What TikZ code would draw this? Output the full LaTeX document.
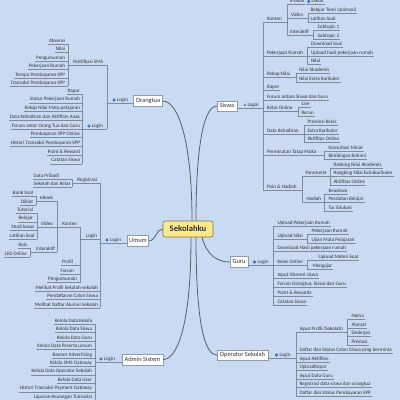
\documentclass[tikz,border=0pt]{standalone}
\usepackage{fontspec}
\setmainfont{Carlito}
\definecolor{bgc}{HTML}{C8DBF2}
\definecolor{txt}{HTML}{333333}
\definecolor{lnc}{HTML}{7D8C9C}
\definecolor{bdc}{HTML}{8E9CAB}
\definecolor{mainc}{HTML}{5A5F66}
\definecolor{icoc}{HTML}{3D85D8}
\definecolor{icod}{HTML}{2A5FA8}
\definecolor{rootf}{HTML}{FCE98C}
\definecolor{rootd}{HTML}{7F7340}
\tikzset{
 lf/.style={font=\fontsize{5.1}{5.5}\selectfont, text=txt, inner xsep=0.8pt, inner ysep=0.8pt, text height=3.4pt, text depth=0.9pt},
 ln/.style={draw=lnc, line width=0.45pt},
 topic/.style={draw=bdc, fill=white, line width=0.4pt, font=\fontsize{6.4}{7}\selectfont, text=txt, inner xsep=1pt, inner ysep=0pt, text height=4.4pt, text depth=1.3pt, minimum height=11pt},
 rootbox/.style={draw=rootd, fill=rootf, line width=0.6pt, rounded corners=2pt, font=\fontsize{8.6}{9}\selectfont\bfseries, text=txt, minimum width=50pt, minimum height=16pt, inner sep=0pt},
 mainln/.style={draw=mainc, line width=0.8pt},
 ico/.style={circle, fill=icoc, draw=icod, line width=0.3pt, minimum size=2.8pt, inner sep=0pt},
}
% right leaf: name, parent spine, x, y, text
\newcommand\rleaf[5]{\node[lf,anchor=west] (#1) at (#3,#4) {#5}; \draw[ln] (#1.south west -| #2) -- (#1.south east);}
% left leaf: name, parent spine, x, y, text
\newcommand\lleaf[5]{\node[lf,anchor=east] (#1) at (#3,#4) {#5}; \draw[ln] (#1.south west) -- (#1.south east -| #2);}
\newcommand\rext[2]{\draw[ln] (#1.south east) -- (#1.south east -| #2);}
\newcommand\lext[2]{\draw[ln] (#1.south west) -- (#1.south west -| #2);}
\newcommand\spine[3]{\draw[ln] (#2.south -| #1) -- (#3.south -| #1);}
\begin{document}
\begin{tikzpicture}[x=1pt,y=-1pt]
\useasboundingbox (0,0) rectangle (400,400);
\fill[bgc] (0,0) rectangle (400,400);

% ---------- centre ----------
\node[rootbox] (root) at (188,229) {Sekolahku};

% ---------- Orangtua ----------
\node[topic,minimum width=29pt] (orangtua) at (148,101) {Orangtua};
\coordinate (sO1) at (107,0); \coordinate (sO2) at (68,0); \coordinate (sO3) at (82,0);
\node[lf,anchor=east] (lgO1) at (129,100) {Login};
\node[ico] (icO1) at ([xshift=-2pt]lgO1.west) {};
\draw[ln] (lgO1.south -| sO1) -- (lgO1.south -| orangtua.west);
\lleaf{nsms}{sO1}{104}{62}{Notifikasi SMS}
\lext{nsms}{sO2}
\lleaf{o1}{sO2}{66}{41}{Absensi}
\lleaf{o2}{sO2}{66}{49.45}{Nilai}
\lleaf{o3}{sO2}{66}{57.9}{Pengumuman}
\lleaf{o4}{sO2}{66}{66.35}{Pekerjaan Rumah}
\lleaf{o5}{sO2}{66}{74.8}{Tempo Pembayaran SPP}
\lleaf{o6}{sO2}{66}{83.25}{Transaksi Pembayaran SPP}
\spine{sO2}{o1}{o6}
\node[lf,anchor=east] (lgO2) at (104,126) {Login};
\node[ico] (icO2) at ([xshift=-2pt]lgO2.west) {};
\draw[ln] (lgO2.south -| sO3) -- (lgO2.south -| sO1);
\spine{sO1}{nsms}{lgO2}
\lleaf{o7}{sO3}{81}{91}{Rapor}
\lleaf{o8}{sO3}{81}{99.7}{Status Pekerjaan Rumah}
\lleaf{o9}{sO3}{81}{108.4}{Rekap Nilai Mata pelajaran}
\lleaf{o10}{sO3}{81}{117.1}{Data Kehadiran dan Aktifitas Anak}
\lleaf{o11}{sO3}{81}{125.8}{Forum antar Orang Tua dan Guru}
\lleaf{o12}{sO3}{81}{134.5}{Pembayaran SPP Online}
\lleaf{o13}{sO3}{81}{143.2}{Histori Transaksi Pembayaran SPP}
\lleaf{o14}{sO3}{81}{151.9}{Point \& Reward}
\lleaf{o15}{sO3}{81}{160.6}{Catatan Siswa}
\spine{sO3}{o7}{o15}

% ---------- Umum ----------
\node[topic,minimum width=21pt] (umum) at (138,241) {Umum};
\coordinate (sU1) at (100,0); \coordinate (sU2) at (72,0); \coordinate (sU3) at (80,0);
\coordinate (sU4) at (57,0); \coordinate (sU5) at (36,0); \coordinate (sU6) at (37,0); \coordinate (sU7) at (30,0);
\node[lf,anchor=east] (lgU1) at (122,240) {Login};
\node[ico] (icU1) at ([xshift=-2pt]lgU1.west) {};
\draw[ln] (lgU1.south -| sU1) -- (lgU1.south -| umum.west);
\lleaf{reg}{sU1}{98}{180}{Registrasi}
\lext{reg}{sU2}
\lleaf{u1}{sU2}{60}{176}{Data Pribadi}
\lleaf{u2}{sU2}{71.5}{184}{Sekolah dan Kelas}
\spine{sU2}{u1}{u2}
\lleaf{lgU2}{sU1}{98}{236}{Login}
\lext{lgU2}{sU3}
\lleaf{kon}{sU3}{78}{224}{Konten}
\lext{kon}{sU4}
\lleaf{ebk}{sU4}{54}{198}{eBook}
\lext{ebk}{sU5}
\lleaf{u3}{sU5}{34}{193}{Bank Soal}
\lleaf{u4}{sU5}{34}{202}{Diklat}
\spine{sU5}{u3}{u4}
\lleaf{vid}{sU4}{54}{224}{Video}
\lext{vid}{sU6}
\lleaf{u5}{sU6}{34}{210}{Tutorial}
\lleaf{u6}{sU6}{34}{218.7}{Belajar}
\lleaf{u7}{sU6}{35.5}{227.4}{Studi kasus}
\lleaf{u8}{sU6}{35.5}{236}{Latihan Soal}
\spine{sU6}{u5}{u8}
\lleaf{itk}{sU4}{56}{249}{Interaktif}
\lext{itk}{sU7}
\lleaf{u9}{sU7}{28}{245}{Kuis}
\lleaf{u10}{sU7}{28}{254}{LKS Online}
\spine{sU7}{u9}{u10}
\spine{sU4}{ebk}{itk}
\lleaf{u11}{sU3}{74}{262.5}{Profil}
\lleaf{u12}{sU3}{75}{271}{Forum}
\lleaf{u13}{sU3}{78}{279.5}{Pengumuman}
\spine{sU3}{kon}{u13}
\lleaf{u14}{sU1}{99}{288}{Melihat Profil Sekolah-sekolah}
\lleaf{u15}{sU1}{99}{296.5}{Pendaftaran Calon Siswa}
\lleaf{u16}{sU1}{99}{305}{Melihat Daftar Alumni Sekolah}
\spine{sU1}{reg}{u16}

% ---------- Admin Sistem ----------
\node[topic,minimum width=41pt] (admin) at (142.5,359.5) {Admin Sistem};
\coordinate (sA1) at (95,0);
\node[lf,anchor=east] (lgA) at (116,359) {Login};
\node[ico] (icA) at ([xshift=-2pt]lgA.west) {};
\draw[ln] (lgA.south -| sA1) -- (lgA.south -| admin.west);
\lleaf{a1}{sA1}{93}{321}{Kelola Data Kelola}
\lleaf{a2}{sA1}{93}{329.45}{Kelola Data Siswa}
\lleaf{a3}{sA1}{93}{337.9}{Kelola Data Guru}
\lleaf{a4}{sA1}{93}{346.35}{Kelola Data Peserta umum}
\lleaf{a5}{sA1}{93}{354.8}{Banner Advertising}
\lleaf{a6}{sA1}{93}{363.25}{Kelola SMS Gateway}
\lleaf{a7}{sA1}{93}{371.7}{Kelola Data Operator Sekolah}
\lleaf{a8}{sA1}{93}{380.15}{Kelola Data User}
\lleaf{a9}{sA1}{93}{388.6}{Histori Transaksi Payment Gateway}
\lleaf{a10}{sA1}{93}{397.05}{Laporan Keuangan Transaksi}
\spine{sA1}{a1}{a10}

% ---------- Siswa ----------
\node[topic,minimum width=20pt,minimum height=10pt] (siswa) at (227,106) {Siswa};
\coordinate (sS1) at (263,0); \coordinate (sS2) at (287,0); \coordinate (sS3) at (306,0);
\coordinate (sS4) at (308,0); \coordinate (sS5) at (313,0); \coordinate (sS6) at (307,0);
\coordinate (sS7) at (296,0); \coordinate (sS8) at (298,0); \coordinate (sS9) at (304,0);
\coordinate (sS10) at (324,0); \coordinate (sS11) at (302,0); \coordinate (sS12) at (330,0);
\coordinate (sS13) at (324,0);
\node[lf,anchor=west] (lgS) at (246.5,105) {Login};
\coordinate (lk) at ([xshift=-1.8pt]lgS.west);
\fill[icoc] ([xshift=-1.2pt,yshift=-1.4pt]lk) rectangle ([xshift=1.2pt,yshift=0.3pt]lk);
\draw[icod,line width=0.35pt] ([xshift=-0.7pt,yshift=0.3pt]lk) arc[start angle=180,end angle=0,radius=0.7pt];
\draw[ln] (siswa.east |- lgS.south) -- (lgS.south -| sS1);
\rleaf{kts}{sS1}{266}{19}{Konten}
\rext{kts}{sS2}
\rleaf{ebs}{sS2}{289}{1.5}{e-book}
\rleaf{dkt}{sS3}{310.5}{1.5}{Diktat}
\node[ico] (icD) at ([xshift=-1.8pt]dkt.west) {};
\rleaf{vds}{sS2}{290}{15}{Video}
\rext{vds}{sS4}
\rleaf{s1}{sS4}{309.5}{10.5}{Belajar Teori (animasi)}
\rleaf{s2}{sS4}{309.5}{19}{Latihan Soal}
\spine{sS4}{s1}{s2}
\rleaf{its}{sS2}{289}{32}{Interaktif}
\rext{its}{sS5}
\rleaf{s3}{sS5}{316.5}{27.5}{Subtopic 1}
\rleaf{s4}{sS5}{316.5}{36}{Subtopic 2}
\spine{sS5}{s3}{s4}
\spine{sS2}{ebs}{its}
\rleaf{prs}{sS1}{266}{53}{Pekerjaan Rumah}
\rext{prs}{sS6}
\rleaf{s5}{sS6}{310}{44.5}{Download Soal}
\rleaf{s6}{sS6}{310}{53}{Upload hasil pekerjaan rumah}
\rleaf{s7}{sS6}{310}{61.5}{Nilai}
\spine{sS6}{s5}{s7}
\rleaf{rks}{sS1}{266}{74.5}{Rekap Nilai}
\rext{rks}{sS7}
\rleaf{s8}{sS7}{298}{70.5}{Nilai Akademis}
\rleaf{s9}{sS7}{298}{79}{Nilai Extra Kurikuler}
\spine{sS7}{s8}{s9}
\rleaf{rps}{sS1}{266}{87.5}{Rapor}
\rleaf{fos}{sS1}{266}{97}{Forum antara Siswa dan Guru}
\rleaf{kos}{sS1}{266}{108}{Kelas Online}
\rext{kos}{sS8}
\rleaf{s10}{sS8}{300.5}{104.5}{Live}
\rleaf{s11}{sS8}{300.5}{113}{Rerun}
\spine{sS8}{s10}{s11}
\rleaf{dks}{sS1}{266}{131}{Data Kehadiran}
\rext{dks}{sS9}
\rleaf{s12}{sS9}{306.5}{122.5}{Presensi Kelas}
\rleaf{s13}{sS9}{306.5}{131}{Extra Kurikuler}
\rleaf{s14}{sS9}{306.5}{139.5}{Aktifitas Online}
\spine{sS9}{s12}{s14}
\rleaf{pts}{sS1}{266}{152}{Perminatan Tatap Muka}
\rext{pts}{sS10}
\rleaf{s15}{sS10}{327.5}{148}{Konsultasi Minat}
\rleaf{s16}{sS10}{327.5}{156.5}{Bimbingan Rohani}
\spine{sS10}{s15}{s16}
\rleaf{phs}{sS1}{266}{187}{Poin \& Hadiah}
\rext{phs}{sS11}
\rleaf{pms}{sS11}{304.5}{173.5}{Parameter}
\rext{pms}{sS12}
\rleaf{s17}{sS12}{332.5}{165}{Ranking Nilai Akademis}
\rleaf{s18}{sS12}{332.5}{173.5}{Rangking Nilai Extrakurikuler}
\rleaf{s19}{sS12}{332.5}{182}{Aktifitas Online}
\spine{sS12}{s17}{s19}
\rleaf{hds}{sS11}{305.5}{199.5}{Hadiah}
\rext{hds}{sS13}
\rleaf{s20}{sS13}{327.5}{191}{Beasiswa}
\rleaf{s21}{sS13}{327.5}{199.5}{Peralatan Belajar}
\rleaf{s22}{sS13}{327.5}{208.5}{Tur Edukasi}
\spine{sS13}{s20}{s22}
\spine{sS11}{pms}{hds}
\spine{sS1}{kts}{phs}

% ---------- Guru ----------
\node[topic,minimum width=18pt] (guru) at (239,262) {Guru};
\coordinate (sG1) at (273,0); \coordinate (sG2) at (307,0); \coordinate (sG3) at (307,0);
\node[lf,anchor=west] (lgG) at (256.5,262) {Login};
\node[ico] (icG) at ([xshift=-2pt]lgG.west) {};
\draw[ln] (guru.east |- lgG.south) -- (lgG.south -| sG1);
\rleaf{g1}{sG1}{276.5}{223}{Upload Pekerjaan Rumah}
\rleaf{g2}{sG1}{276.5}{236}{Upload Nilai}
\rext{g2}{sG2}
\rleaf{g3}{sG2}{310.5}{231.5}{Pekerjaan Rumah}
\rleaf{g4}{sG2}{310.5}{240}{Ujian Mata Pelajaran}
\spine{sG2}{g3}{g4}
\rleaf{g5}{sG1}{276.5}{248.5}{Download Hasil pekerjaan rumah}
\rleaf{g6}{sG1}{276.5}{262}{Kelas Online}
\rext{g6}{sG3}
\rleaf{g7}{sG3}{317.5}{257}{Upload Materi Soal}
\rleaf{g8}{sG3}{311.5}{266}{Mengajar}
\spine{sG3}{g7}{g8}
\rleaf{g9}{sG1}{276.5}{275}{Input Absensi siswa}
\rleaf{g10}{sG1}{276.5}{284}{Forum Orangtua, Siswa dan Guru}
\rleaf{g11}{sG1}{276.5}{293}{Point \& Rewards}
\rleaf{g12}{sG1}{276.5}{302}{Catatan Siswa}
\spine{sG1}{g1}{g12}

% ---------- Operator Sekolah ----------
\node[topic,minimum width=51pt,minimum height=10pt] (oper) at (242.5,355) {Operator Sekolah};
\coordinate (sP1) at (296,0); \coordinate (sP2) at (347,0);
\node[lf,anchor=west] (lgP) at (278.5,355) {Login};
\node[ico] (icP) at ([xshift=-2pt]lgP.west) {};
\draw[ln] (oper.east |- lgP.south) -- (lgP.south -| sP1);
\rleaf{p1}{sP1}{298.5}{329}{Input Profil (Sekolah)}
\rext{p1}{sP2}
\rleaf{p2}{sP2}{350.5}{316.5}{Nama}
\rleaf{p3}{sP2}{350.5}{325}{Alamat}
\rleaf{p4}{sP2}{350.5}{333.5}{Deskripsi}
\rleaf{p5}{sP2}{350.5}{342}{Prestasi}
\spine{sP2}{p2}{p5}
\rleaf{p6}{sP1}{298.5}{350}{Daftar dan Status Calon Siswa yang berminta}
\rleaf{p7}{sP1}{298.5}{359}{Input Aktifitas}
\rleaf{p8}{sP1}{298.5}{367.5}{UploadRapor}
\rleaf{p9}{sP1}{298.5}{376}{Input Data Guru}
\rleaf{p10}{sP1}{298.5}{384.5}{Registrasi data siswa dan orangtua}
\rleaf{p11}{sP1}{298.5}{393}{Daftar dan Status Pembayaran SPP}
\spine{sP1}{p1}{p11}

% ---------- main connectors ----------
\draw[mainln] ([xshift=4pt]root.north) .. controls (192,140) and (178,101) .. (orangtua.east);
\draw[mainln] ([xshift=8pt]root.north) .. controls (196,140) and (205,106) .. (siswa.west);
\draw[mainln] (root.west) .. controls (156,229) and (156,241) .. (umum.east);
\draw[mainln] ([xshift=3pt]root.south) .. controls (191,330) and (176,359.5) .. (admin.east);
\draw[mainln] ([xshift=8pt]root.south) .. controls (196,330) and (206,355) .. (oper.west);
\draw[mainln] ([xshift=14pt]root.south) .. controls (207,256) and (218,262) .. (guru.west);
\end{tikzpicture}
\end{document}
